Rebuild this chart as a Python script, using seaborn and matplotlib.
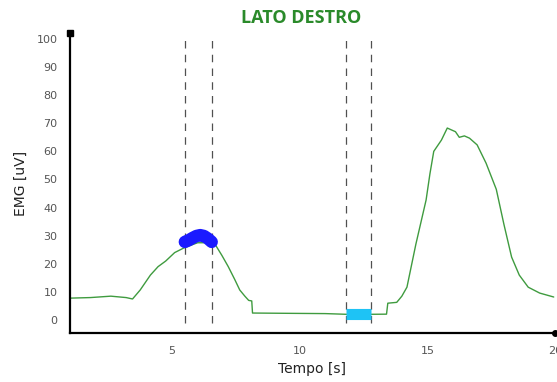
import matplotlib
matplotlib.use("Agg")
import matplotlib.pyplot as plt
import seaborn as sns
import pandas as pd

# EMG envelope, right side
tempo = [1.0, 1.8, 2.6, 3.2, 3.45, 3.75, 4.15, 4.45, 4.75, 5.1, 5.45, 5.7, 6.0, 6.4, 6.7,
         6.95, 7.2, 7.45, 7.65, 7.85, 8.0, 8.12, 8.15, 9.5, 11.0, 12.0, 13.4, 13.45,
         13.8, 14.0, 14.2, 14.55, 14.95, 15.1, 15.25, 15.55, 15.78, 15.95, 16.1, 16.25,
         16.45, 16.65, 16.95, 17.3, 17.7, 18.0, 18.3, 18.6, 18.95, 19.4, 19.95]
emg = [7.8, 8.0, 8.5, 8.0, 7.5, 10.7, 16.0, 19.0, 21.0, 24.0, 25.6, 26.5, 27.5, 27.5, 26.7,
       23.0, 19.0, 14.5, 10.7, 8.5, 7.0, 6.8, 2.5, 2.4, 2.3, 2.0, 2.1, 6.0,
       6.3, 8.5, 11.7, 27.0, 42.7, 52.0, 60.0, 64.0, 68.3, 67.6, 67.0, 65.0,
       65.5, 64.7, 62.3, 55.8, 46.5, 34.0, 22.4, 16.0, 11.7, 9.6, 8.2]

# Selected windows (start/end markers)
win_active = [5.5, 6.55]
win_rest = [11.8, 12.8]

# Active window samples (blue) and rest window baseline (cyan)
blob_t = [5.5, 5.65, 5.8, 5.95, 6.1, 6.25, 6.4, 6.55]
blob_v = [27.8, 28.4, 29.2, 29.9, 30.2, 29.9, 29.0, 27.8]
rest_t = [11.8, 12.8]
rest_v = [2.0, 2.0]

df = pd.DataFrame({"t": tempo, "v": emg})
df_blob = pd.DataFrame({"t": blob_t, "v": blob_v})
df_rest = pd.DataFrame({"t": rest_t, "v": rest_v})

sns.set_style("white")
plt.rcParams["font.family"] = ["DejaVu Sans"]

fig = plt.figure(figsize=(5.57, 3.82), dpi=100)
ax = fig.add_axes([70 / 557, 49 / 382, 485 / 557, 300 / 382])

for x in win_active + win_rest:
    ax.plot([x, x], [-1, 101], color="#505050", lw=0.9, dashes=(6, 5))

sns.lineplot(data=df, x="t", y="v", ax=ax, color="#3f9b3f", lw=1.0)
sns.lineplot(data=df_rest, x="t", y="v", ax=ax, color="#1ec3f5", lw=8,
             solid_capstyle="butt")
sns.lineplot(data=df_blob, x="t", y="v", ax=ax, color="#1a1aff", lw=9,
             solid_capstyle="round")

ax.set_xlim(1, 20)
ax.set_ylim(-4.6, 102.1)
ax.set_xticks([5, 10, 15, 20])
ax.set_yticks(range(0, 101, 10))
ax.tick_params(axis="both", labelsize=8, colors="#333333", length=3, width=1,
               direction="out", pad=6)
for lab in ax.get_xticklabels() + ax.get_yticklabels():
    lab.set_color("#555555")

for side in ["top", "right"]:
    ax.spines[side].set_visible(False)
for side in ["left", "bottom"]:
    ax.spines[side].set_color("black")
    ax.spines[side].set_linewidth(1.6)

# axis end markers
ax.plot([0], [1.0], marker="s", ms=4, color="black", transform=ax.transAxes, clip_on=False)
ax.plot([1.0], [0], marker="o", ms=4, color="black", transform=ax.transAxes, clip_on=False)

ax.set_xlabel("Tempo [s]", fontsize=10, color="#222222", labelpad=5)
ax.set_ylabel("EMG [uV]", fontsize=10, color="#222222", labelpad=6)

fig.text(0.54, 0.952, "LATO DESTRO", ha="center", va="center", fontsize=13,
         fontweight="bold", color="#2a8a2a", family=["Open Sans", "DejaVu Sans"])

fig.savefig("out.png", dpi=100)
